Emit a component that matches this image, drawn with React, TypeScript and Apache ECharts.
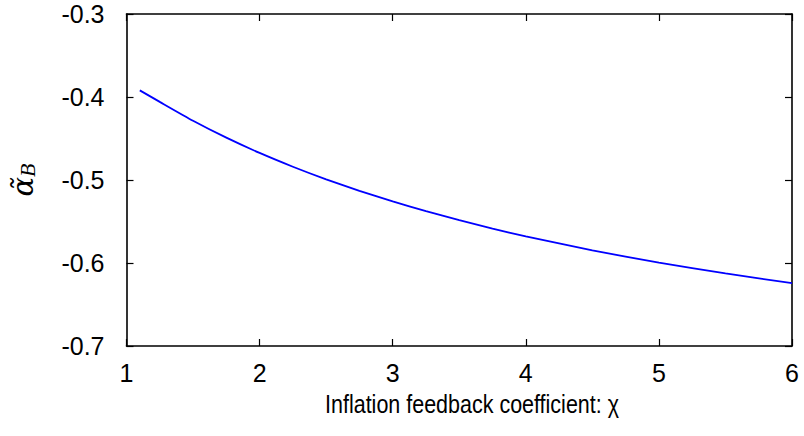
import React, { useEffect, useRef } from "react";
import * as echarts from "echarts";

const chiValues = [1.1, 1.25, 1.5, 1.75, 2.0, 2.25, 2.5, 2.75, 3.0, 3.25, 3.5, 3.75, 4.0, 4.5, 5.0, 5.5, 6.0];
const alphaValues = [-0.392, -0.4059, -0.4286, -0.449, -0.4674, -0.484, -0.4992, -0.5131, -0.5258, -0.5376, -0.5484, -0.5585, -0.5679, -0.5848, -0.5995, -0.6126, -0.6243];
const xTicks = [1, 2, 3, 4, 5, 6];
const yTicks = [-0.7, -0.6, -0.5, -0.4, -0.3];
const xTitle = "Inflation feedback coefficient: χ";

export default function App() {
  const ref = useRef<HTMLDivElement>(null);
  useEffect(() => {
    document.body.style.margin = "0";
    const chart = echarts.init(ref.current!, null, { renderer: "svg" });
    const font = "'Liberation Sans', Arial, Helvetica, sans-serif";
    const axisCommon = {
      axisLine: { show: true, onZero: false, lineStyle: { color: "#000", width: 1.6 } },
      axisTick: { show: true, inside: true, length: 7, lineStyle: { color: "#000", width: 1.2 } },
      splitLine: { show: false },
    };
    chart.setOption({
      animation: false,
      backgroundColor: "#fff",
      grid: { left: 124, right: 12, top: 14, bottom: 90, containLabel: false },
      graphic: [
        {
          type: "text",
          x: 472,
          y: 404,
          scaleX: 0.86,
          style: {
            text: xTitle,
            font: "25px 'Liberation Sans', Arial, sans-serif",
            fill: "#000",
            textAlign: "center",
            textVerticalAlign: "middle",
          },
        },
      ],
      xAxis: [
        {
          type: "value",
          min: 1,
          max: 6,
          interval: 1,
          ...axisCommon,
          axisLabel: {
            color: "#000",
            fontSize: 25,
            fontFamily: font,
            margin: 14,
            formatter: (v: number) => (xTicks.includes(v) ? String(v) : ""),
          },
        },
        {
          type: "value",
          position: "top",
          min: 1,
          max: 6,
          interval: 1,
          ...axisCommon,
          axisLabel: { show: false },
        },
      ],
      yAxis: [
        {
          type: "value",
          min: -0.7,
          max: -0.3,
          interval: 0.1,
          ...axisCommon,
          axisLabel: {
            color: "#000",
            fontSize: 25,
            fontFamily: font,
            margin: 22,
            formatter: (v: number) => {
              const t = yTicks.find((y) => Math.abs(y - v) < 1e-9);
              return t === undefined ? "" : t.toFixed(1);
            },
          },
          name: "{a|α̃}{b|B}",
          nameLocation: "middle",
          nameRotate: 90,
          nameGap: 88,
          nameTextStyle: {
            rich: {
              a: { fontFamily: "'DejaVu Serif', 'Liberation Serif', serif", fontStyle: "italic", fontSize: 29, color: "#000" },
              b: { fontFamily: "'Liberation Serif', 'DejaVu Serif', serif", fontStyle: "italic", fontSize: 22, color: "#000", padding: [10, 0, 0, 0] },
            },
          },
        },
        {
          type: "value",
          position: "right",
          min: -0.7,
          max: -0.3,
          interval: 0.1,
          ...axisCommon,
          axisLabel: { show: false },
        },
      ],
      series: [
        {
          type: "line",
          data: chiValues.map((x, i) => [x, alphaValues[i]]),
          smooth: 0.2,
          showSymbol: false,
          lineStyle: { color: "#0000ff", width: 1.8 },
          xAxisIndex: 0,
          yAxisIndex: 0,
        },
      ],
    });
    return () => chart.dispose();
  }, []);
  return <div ref={ref} style={{ width: 804, height: 436 }} />;
}
